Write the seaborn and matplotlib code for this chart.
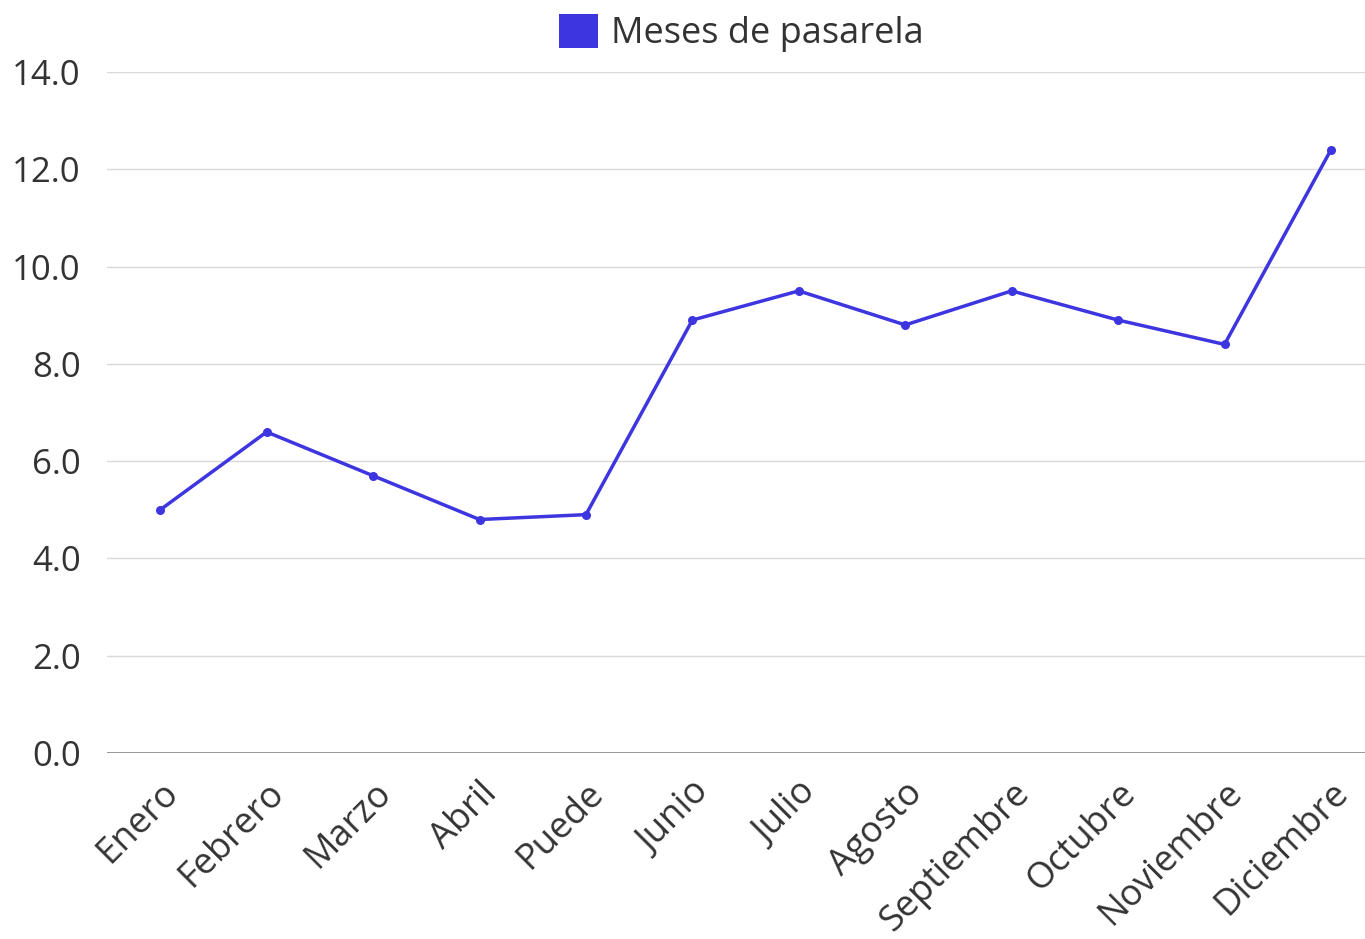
import pandas as pd
import seaborn as sns
import matplotlib.pyplot as plt
from matplotlib.patches import Patch

months = ['Enero', 'Febrero', 'Marzo', 'Abril', 'Puede', 'Junio', 'Julio',
          'Agosto', 'Septiembre', 'Octubre', 'Noviembre', 'Diciembre']
values = [5.0, 6.6, 5.7, 4.8, 4.9, 8.9, 9.5, 8.8, 9.5, 8.9, 8.4, 12.4]
y_ticks = [0, 2, 4, 6, 8, 10, 12, 14]
series_name = 'Meses de pasarela'
line_color = '#3d35df'

df = pd.DataFrame({'mes': months, 'valor': values})
df['pos'] = range(len(months))

sns.set_style('white')
plt.rcParams['font.family'] = ['Open Sans', 'DejaVu Sans']

fig = plt.figure(figsize=(13.65, 9.39), dpi=100)
ax = fig.add_axes([107 / 1365, 186 / 939, 1258 / 1365, 681 / 939])

sns.lineplot(data=df, x='pos', y='valor', color=line_color, linewidth=2.5,
             marker='o', markersize=6.5, markeredgewidth=0, ax=ax)

ax.set_xlim(-0.5, 11.32)
ax.set_ylim(0, 14)
ax.set_yticks(y_ticks)
ax.set_yticklabels([f'{t:.1f}' for t in y_ticks], fontsize=25, color='#333333')
ax.set_xticks(df['pos'])
ax.set_xticklabels(months, rotation=45, ha='right', rotation_mode='anchor',
                   fontsize=26, color='#333333')
ax.tick_params(axis='y', length=0, pad=19)
ax.tick_params(axis='x', length=0, pad=16)

ax.grid(axis='y', color='#d9d9d9', linewidth=1)
ax.axhline(0, color='#888888', linewidth=1.2)
for s in ax.spines.values():
    s.set_visible(False)
ax.set_xlabel('')
ax.set_ylabel('')

handle = Patch(facecolor=line_color, edgecolor='none')
fig.legend([handle], [series_name], loc='upper center', bbox_to_anchor=(0.543, 1.02),
           frameon=False, fontsize=26, handlelength=1.1, handleheight=1.1,
           handletextpad=0.35, labelcolor='#333333')

fig.savefig('out.png', dpi=100)
